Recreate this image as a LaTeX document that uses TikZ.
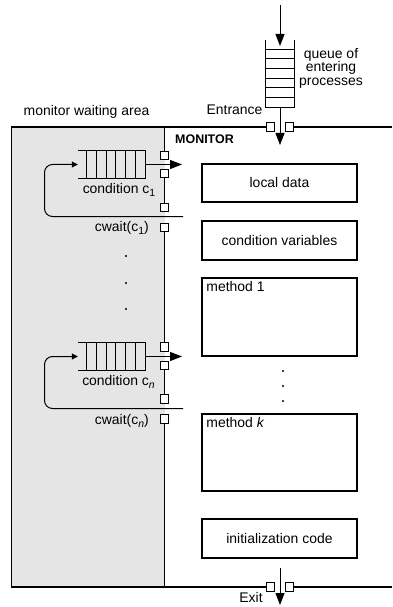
\documentclass[tikz,border=0pt]{standalone}
\usepackage{fontspec}
\setmainfont{Liberation Sans}
\usetikzlibrary{arrows.meta}
\newcommand{\lowsub}[1]{\raisebox{-0.45ex}{\fontsize{10.5}{10.5}\selectfont #1}}
\tikzset{
  txt/.style={inner sep=0pt, font=\fontsize{14}{13.5}\selectfont},
  door/.style={draw, fill=white, line width=0.8bp, minimum size=8.5bp, inner sep=0pt},
  part/.style={draw, line width=1.5bp, minimum width=155bp, txt},
  queuebox/.style={minimum width=67bp, minimum height=28bp, inner sep=0pt},
  wall/.style={line width=1.8bp},
  cell/.style={line width=0.9bp},
  bigarrow/.style={line width=1bp, -{Triangle[length=12bp,width=9bp]}},
  smallarrow/.style={line width=1bp, -{Triangle[length=6bp,width=6bp]}},
}
\begin{document}
\begin{tikzpicture}[x=1bp,y=-1bp]
  \useasboundingbox (0,0) rectangle (392,607);
  \fill[gray!20] (11.5,127) rectangle (164.5,587);

  % doors
  \node[door] (ed1) at (270.5,127) {};
  \node[door] (ed2) at (289.5,127) {};
  \node[door] (xd1) at (270.5,587) {};
  \node[door] (xd2) at (289.5,587) {};
  \node[door] (d1a) at (164.5,155.5) {};
  \node[door] (d1b) at (164.5,173.5) {};
  \node[door] (d1c) at (164.5,207.5) {};
  \node[door] (d1d) at (164.5,227.5) {};
  \node[door] (dna) at (164.5,347) {};
  \node[door] (dnb) at (164.5,365.5) {};
  \node[door] (dnc) at (164.5,399) {};
  \node[door] (dnd) at (164.5,419) {};

  % walls
  \draw[wall] (392,127) -- (ed2.east);
  \draw[wall] (ed1.west) -- (11.5,127) -- (11.5,587) -- (xd1.west);
  \draw[wall] (xd2.east) -- (392,587);
  \draw[wall] (164.5,127) -- (d1a.north);
  \draw[wall] (d1b.south) -- (d1c.north);
  \draw[wall] (d1d.south) -- (dna.north);
  \draw[wall] (dnb.south) -- (dnc.north);
  \draw[wall] (dnd.south) -- (164.5,587);

  % entering queue
  \draw[cell] (265.5,40) -- (265.5,107) -- (294.5,107) -- (294.5,40);
  \foreach \y in {49,58.5,68,78,87.5,97}
    \draw[cell] (265.5,\y) -- (294.5,\y);
  \coordinate (src) at (280,5);
  \coordinate (qin) at (280,46);
  \coordinate (qbot) at (280,107);
  \coordinate (inside) at (280,145);
  \draw[bigarrow] (src) -- (qin);
  \draw[bigarrow] (qbot) -- (inside);
  \node[txt, align=center] (qlbl) at (331,68) {queue of\\entering\\processes};
  \node[txt] (entr) at (234.5,110) {Entrance};
  \node[txt] (warea) at (86.5,112) {monitor waiting area};
  \node[inner sep=0pt, anchor=west, font=\fontsize{12.5}{13}\selectfont\bfseries] (mon) at (175,139) {MONITOR};

  % condition c1
  \node[queuebox] (cq1) at (111.5,164.5) {};
  \draw[cell] (cq1.north west) -- (cq1.north east) -- (cq1.south east) -- (cq1.south west);
  \foreach \i in {0,...,5}
    \draw[cell] ([xshift={(9+\i*9.67)*1bp}]cq1.north west) -- ([xshift={(9+\i*9.67)*1bp}]cq1.south west);
  \coordinate (c1out) at (182,164.5);
  \coordinate (c1wait) at (183,216.5);
  \draw[bigarrow] (cq1.east) -- (c1out);
  \draw[smallarrow, rounded corners=8bp] (c1wait) -- (44.5,216.5) -- (44.5,164.5) -- (cq1.west);
  \node[txt] (c1lbl) at (119,190) {condition c\lowsub{1}};
  \node[txt, anchor=east] (c1wlbl) at (149,228) {cwait(c\lowsub{1})};

  % condition cn
  \node[queuebox] (cqn) at (111.5,356.5) {};
  \draw[cell] (cqn.north west) -- (cqn.north east) -- (cqn.south east) -- (cqn.south west);
  \foreach \i in {0,...,5}
    \draw[cell] ([xshift={(9+\i*9.67)*1bp}]cqn.north west) -- ([xshift={(9+\i*9.67)*1bp}]cqn.south west);
  \coordinate (cnout) at (182,356.5);
  \coordinate (cnwait) at (183,408.5);
  \draw[bigarrow] (cqn.east) -- (cnout);
  \draw[smallarrow, rounded corners=8bp] (cnwait) -- (44.5,408.5) -- (44.5,356.5) -- (cqn.west);
  \node[txt] (cnlbl) at (118.5,382) {condition c\lowsub{\textit{n}}};
  \node[txt, anchor=east] (cnwlbl) at (149,421) {cwait(c\lowsub{\textit{n}})};

  \foreach \y in {256,283,309} \fill (126,\y) circle (1.1bp);
  \foreach \y in {371,386,401} \fill (283,\y) circle (1.1bp);

  % monitor parts
  \node[part, minimum height=38bp] (ldata) at (279.5,183) {local data};
  \node[part, minimum height=39bp] (cvars) at (279.5,240.5) {condition variables};
  \node[part, minimum height=78bp] (meth1) at (279.5,317) {};
  \node[txt, anchor=north west, xshift=5bp, yshift=-4bp] (m1lbl) at (meth1.north west) {method 1};
  \node[part, minimum height=77bp] (methk) at (279.5,452.5) {};
  \node[txt, anchor=north west, xshift=5bp, yshift=-4bp] (mklbl) at (methk.north west) {method \textit{k}};
  \node[part, minimum height=39bp] (init) at (279.5,538.5) {initialization code};

  % exit
  \coordinate (xtop) at (280,568);
  \coordinate (xbot) at (280,605);
  \draw[bigarrow] (xtop) -- (xbot);
  \node[txt] (exitlbl) at (251,597) {Exit};
\end{tikzpicture}
\end{document}
